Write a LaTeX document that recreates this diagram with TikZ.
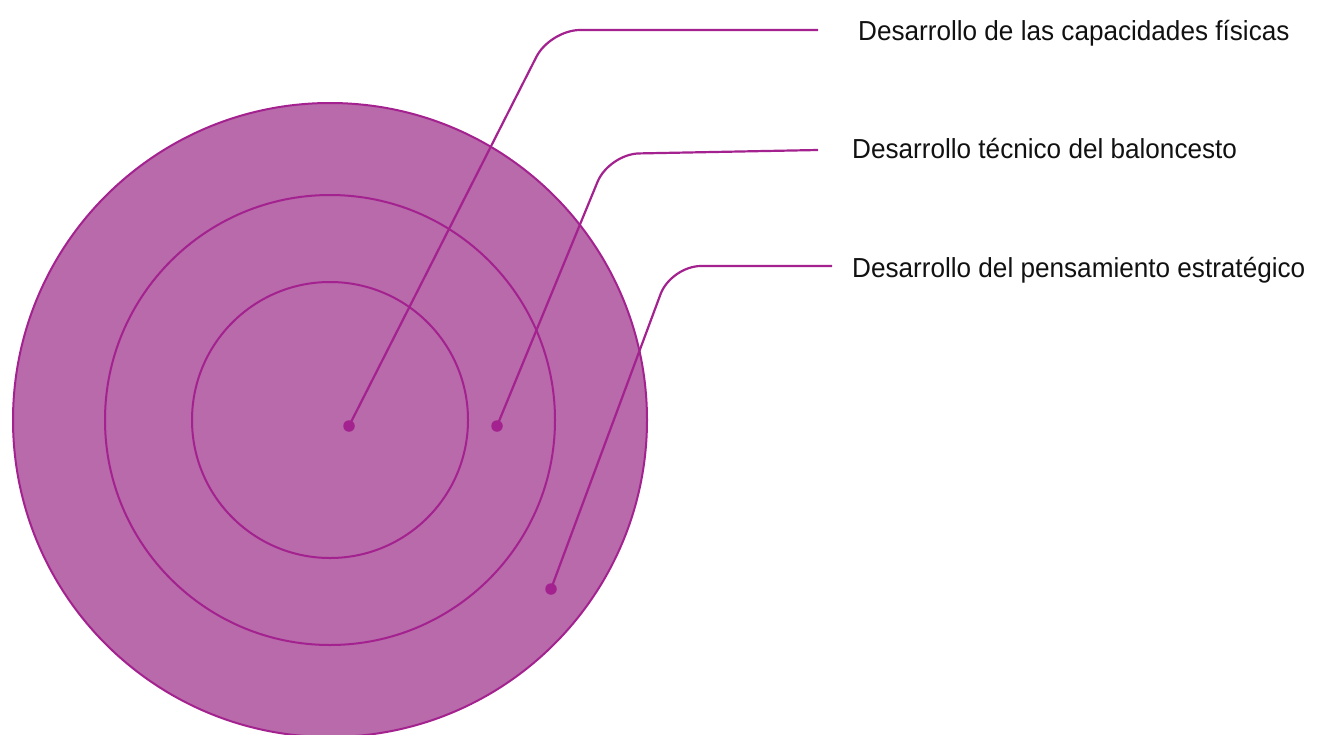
\documentclass[tikz,border=0pt]{standalone}
\usepackage{fontspec}
\setmainfont{Liberation Sans}[FakeStretch=0.95]
\usepackage{xcolor}
\usepackage{tikz}
\usetikzlibrary{positioning, calc}
\definecolor{rgfill}{HTML}{B86AAA}
\definecolor{rgline}{HTML}{A3228F}
\definecolor{rgtext}{HTML}{111111}
\tikzset{
  ring/.style={draw=rgline, line width=2pt},
  pin/.style={circle, fill=rgline, inner sep=0pt, minimum size=11.5pt},
  leader/.style={draw=rgline, line width=2.2pt, rounded corners=30pt},
  tag/.style={anchor=base west, inner sep=0pt, text=rgtext,
              font=\fontsize{27.5pt}{30pt}\selectfont}
}

\begin{document}
\begin{tikzpicture}[x=1pt, y=-1pt]
  \useasboundingbox (0,0) rectangle (1322,734);
  % rings
  \filldraw[ring, fill=rgfill] (330,420) circle[radius=317pt];
  \draw[ring] (330,420) circle[radius=225pt];
  \draw[ring] (330,420) circle[radius=138pt];
  % pins
  \node[pin] (p1) at (349,426) {};
  \node[pin] (p2) at (497,426) {};
  \node[pin] (p3) at (551,589) {};
  % labels
  \node[tag] (l1) at (858,40) {Desarrollo de las capacidades físicas};
  \node[tag] (l2) at (852,158) {Desarrollo técnico del baloncesto};
  \node[tag] (l3) at (852,277) {Desarrollo del pensamiento estratégico};
  \coordinate (e1) at (818,30);
  \coordinate (e2) at (818,150);
  \coordinate (e3) at (832,266);
  % leaders
  \draw[leader] (p1.center) -- (550,30) -- (e1);
  \draw[leader] (p2.center) -- (609,154) -- (e2);
  \draw[leader] (p3.center) -- (671,266) -- (e3);
\end{tikzpicture}
\end{document}
